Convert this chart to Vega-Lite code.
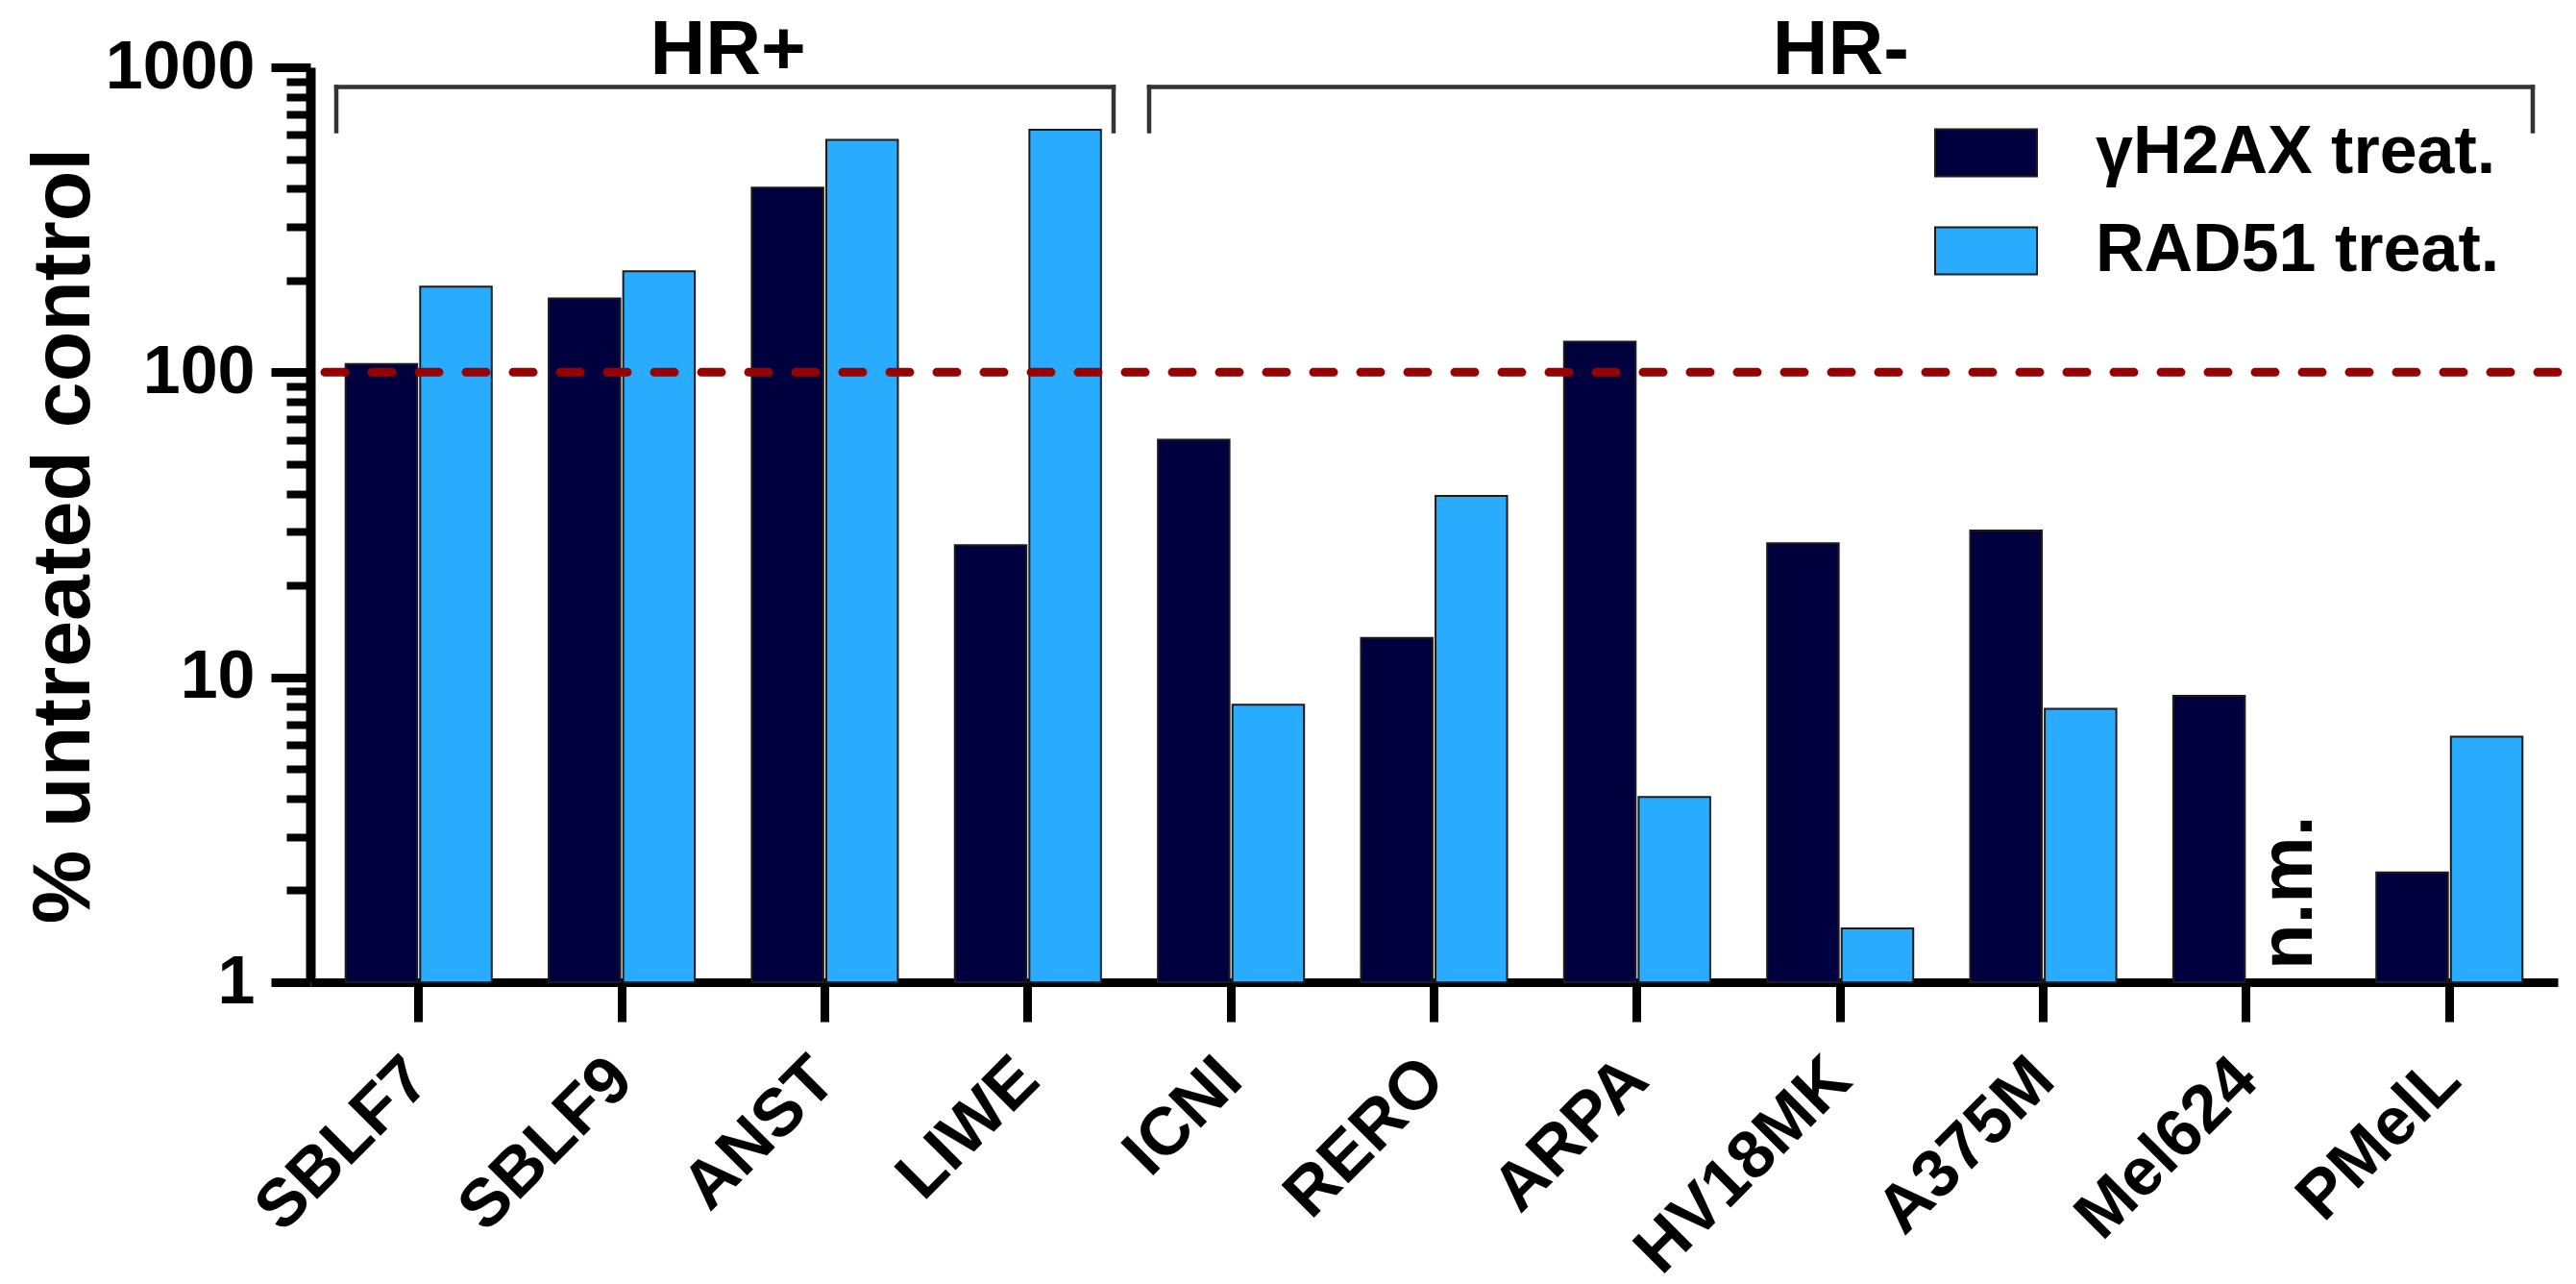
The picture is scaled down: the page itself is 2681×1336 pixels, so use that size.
{
  "$schema": "https://vega.github.io/schema/vega-lite/v6.json",
  "width": 2339,
  "height": 952,
  "autosize": {"type": "none"},
  "padding": {"left": 323, "top": 70, "right": 19, "bottom": 314},
  "background": "white",
  "config": {
    "font": "Liberation Sans",
    "view": {"stroke": null},
    "axis": {
      "grid": false,
      "domainColor": "black",
      "tickColor": "black",
      "labelColor": "black",
      "titleColor": "black",
      "labelFont": "Liberation Sans",
      "labelFontWeight": "bold",
      "titleFont": "Liberation Sans",
      "titleFontWeight": "bold"
    }
  },
  "datasets": {
    "bars": [
      {"cell": "SBLF7", "marker": "γH2AX treat.", "value": 106.4},
      {"cell": "SBLF7", "marker": "RAD51 treat.", "value": 191},
      {"cell": "SBLF9", "marker": "γH2AX treat.", "value": 174.7},
      {"cell": "SBLF9", "marker": "RAD51 treat.", "value": 214.5},
      {"cell": "ANST", "marker": "γH2AX treat.", "value": 402.7},
      {"cell": "ANST", "marker": "RAD51 treat.", "value": 577.7},
      {"cell": "LIWE", "marker": "γH2AX treat.", "value": 27.1},
      {"cell": "LIWE", "marker": "RAD51 treat.", "value": 624},
      {"cell": "ICNI", "marker": "γH2AX treat.", "value": 60.1},
      {"cell": "ICNI", "marker": "RAD51 treat.", "value": 8.12},
      {"cell": "RERO", "marker": "γH2AX treat.", "value": 13.45},
      {"cell": "RERO", "marker": "RAD51 treat.", "value": 39.3},
      {"cell": "ARPA", "marker": "γH2AX treat.", "value": 126},
      {"cell": "ARPA", "marker": "RAD51 treat.", "value": 4.05},
      {"cell": "HV18MK", "marker": "γH2AX treat.", "value": 27.5},
      {"cell": "HV18MK", "marker": "RAD51 treat.", "value": 1.5},
      {"cell": "A375M", "marker": "γH2AX treat.", "value": 30.3},
      {"cell": "A375M", "marker": "RAD51 treat.", "value": 7.88},
      {"cell": "Mel624", "marker": "γH2AX treat.", "value": 8.69},
      {"cell": "PMelL", "marker": "γH2AX treat.", "value": 2.29},
      {"cell": "PMelL", "marker": "RAD51 treat.", "value": 6.39}
    ],
    "notes": [{"cell": "Mel624", "marker": "RAD51 treat.", "v": 1, "label": "n.m."}],
    "ref": [{"v": 100}],
    "segments": [
      {"x": -0.4057, "x2": 3.4219, "y": 861.6, "y2": 861.6},
      {"x": -0.4057, "x2": -0.4057, "y": 861.6, "y2": 617.2},
      {"x": 3.4219, "x2": 3.4219, "y": 861.6, "y2": 617.2},
      {"x": 3.5969, "x2": 10.4104, "y": 861.6, "y2": 861.6},
      {"x": 3.5969, "x2": 3.5969, "y": 861.6, "y2": 617.2},
      {"x": 10.4104, "x2": 10.4104, "y": 861.6, "y2": 617.2}
    ],
    "groups": [
      {"group": "HR+", "x": 1.5224, "y": 950.6},
      {"group": "HR-", "x": 7.003, "y": 950.6}
    ]
  },
  "layer": [
    {
      "layer": [
        {
          "data": {"name": "bars"},
          "mark": {"type": "bar", "stroke": "#1c1c1c", "strokeWidth": 2},
          "encoding": {
            "x": {
              "field": "cell", "type": "nominal", "sort": null,
              "scale": {"paddingInner": 0.2805, "paddingOuter": 0.1737},
              "axis": {
                "title": null, "tickSize": 41, "tickWidth": 9, "domainWidth": 9,
                "labelAngle": -45, "labelAlign": "right", "labelBaseline": "middle",
                "labelFontSize": 70, "labelPadding": 49, "labelOverlap": false, "labelLimit": 0
              }
            },
            "xOffset": {
              "field": "marker", "type": "nominal", "sort": null,
              "scale": {"domain": ["γH2AX treat.", "RAD51 treat."], "paddingInner": 0.04, "paddingOuter": 0}
            },
            "y": {
              "field": "value", "type": "quantitative",
              "scale": {"type": "log", "domain": [1, 1000], "nice": false},
              "axis": {
                "values": [1, 10, 100, 1000], "format": "d",
                "tickSize": 41, "tickWidth": 9, "domainWidth": 10,
                "labelFontSize": 70, "labelPadding": 17, "labelOverlap": false,
                "title": "% untreated control", "titleFontSize": 86,
                "titleX": -231, "titleY": 487, "titleAngle": 270,
                "titleAlign": "center", "titleBaseline": "alphabetic"
              }
            },
            "y2": {"datum": 1},
            "color": {
              "field": "marker", "type": "nominal",
              "scale": {"domain": ["γH2AX treat.", "RAD51 treat."], "range": ["#00003F", "#29ABFE"]},
              "legend": {
                "title": null, "orient": "none", "legendX": 1690, "legendY": 35, "padding": 0,
                "symbolType": "M-1,-0.46H1V0.46H-1Z", "symbolSize": 11236,
                "symbolStrokeColor": "#1c1c1c", "symbolStrokeWidth": 2,
                "labelFontSize": 70, "labelFont": "Liberation Sans", "labelFontWeight": "bold",
                "labelColor": "black", "labelOffset": 60, "labelLimit": 0, "rowPadding": 13
              }
            }
          }
        },
        {
          "data": {"name": "ref"},
          "mark": {"type": "rule", "color": "#990000", "strokeWidth": 9, "strokeDash": [21, 28], "strokeCap": "round"},
          "encoding": {
            "y": {
              "field": "v", "type": "quantitative",
              "axis": {
                "orient": "left",
                "values": [2, 3, 4, 5, 6, 7, 8, 9, 20, 30, 40, 50, 60, 70, 80, 90, 200, 300, 400, 500, 600, 700, 800, 900],
                "tickSize": 25, "tickWidth": 8, "labels": false, "domain": false, "title": null, "grid": false
              }
            }
          }
        },
        {
          "data": {"name": "notes"},
          "mark": {"type": "text", "angle": 270, "align": "left", "baseline": "middle", "dx": 13, "dy": 6, "fontSize": 78, "fontWeight": "bold", "font": "Liberation Sans", "color": "black"},
          "encoding": {
            "x": {"field": "cell", "type": "nominal", "sort": null},
            "xOffset": {"field": "marker", "type": "nominal", "sort": null},
            "y": {"field": "v", "type": "quantitative", "axis": null},
            "text": {"field": "label"}
          }
        }
      ],
      "resolve": {"axis": {"y": "independent"}}
    },
    {
      "layer": [
        {
          "data": {"name": "segments"},
          "mark": {"type": "rule", "color": "#333333", "strokeWidth": 4.5, "strokeCap": "square"},
          "encoding": {
            "x": {"field": "x", "type": "quantitative", "scale": {"domain": [-0.5335, 10.5335], "nice": false, "zero": false}, "axis": null},
            "x2": {"field": "x2"},
            "y": {"field": "y", "type": "quantitative", "axis": null},
            "y2": {"field": "y2"}
          }
        },
        {
          "data": {"name": "groups"},
          "mark": {"type": "text", "fontSize": 80, "fontWeight": "bold", "font": "Liberation Sans", "align": "center", "baseline": "alphabetic", "color": "black"},
          "encoding": {
            "x": {"field": "x", "type": "quantitative", "axis": null},
            "y": {"field": "y", "type": "quantitative", "axis": null},
            "text": {"field": "group"}
          }
        }
      ]
    }
  ],
  "resolve": {"scale": {"x": "independent"}, "axis": {"x": "independent", "y": "independent"}}
}
